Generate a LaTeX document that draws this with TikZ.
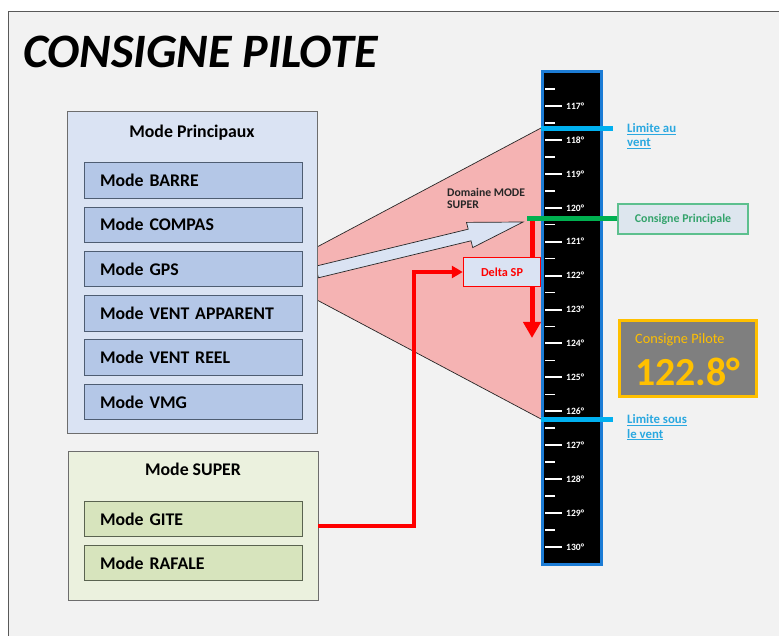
\documentclass[tikz,border=0pt]{standalone}
\usepackage{fontspec}
\setmainfont{Carlito}
\usetikzlibrary{arrows.meta,calc}
\definecolor{bgc}{HTML}{F2F2F2}
\definecolor{framec}{HTML}{595959}
\definecolor{pinkc}{HTML}{F5B3B3}
\definecolor{princfill}{HTML}{DAE3F3}
\definecolor{princin}{HTML}{B4C7E7}
\definecolor{princline}{HTML}{4E5D72}
\definecolor{superfill}{HTML}{EBF1DE}
\definecolor{superin}{HTML}{D7E4BD}
\definecolor{superline}{HTML}{5A6350}
\definecolor{outline}{HTML}{6D6D6D}
\definecolor{scaleblue}{HTML}{1C7CD5}
\definecolor{limblue}{HTML}{00B0F0}
\definecolor{limtext}{HTML}{2AA8E0}
\definecolor{greenc}{HTML}{00B050}
\definecolor{cpline}{HTML}{5DC08E}
\definecolor{cptext}{HTML}{33A36B}
\definecolor{cpfill}{HTML}{DDE6EE}
\definecolor{gold}{HTML}{FFC000}
\definecolor{pilotgray}{HTML}{7F7F7F}
\definecolor{redc}{HTML}{FF0000}
\definecolor{darktext}{HTML}{262626}
\begin{document}
\begin{tikzpicture}[x=1pt,y=-1pt,
  outerbox/.style={draw=outline,line width=1pt,inner sep=0pt,minimum width=250pt},
  modebox/.style={draw=princline,fill=princin,line width=1pt,minimum width=218pt,minimum height=35.5pt,
    text width=186pt,inner xsep=16pt,inner ysep=0pt,align=left,font=\fontsize{17.8}{20}\selectfont\bfseries,text=black},
  superbox/.style={modebox,draw=superline,fill=superin},
  boxtitle/.style={font=\fontsize{17.8}{20}\selectfont\bfseries,inner sep=0pt,text=black},
  majortick/.style={white,line width=2pt},
  minortick/.style={white,line width=1.5pt},
  ticklabel/.style={text=white,font=\fontsize{9.6}{10}\selectfont\bfseries,inner sep=0pt,anchor=west},
  limline/.style={limblue,line width=5pt},
  limlabel/.style={text=limtext,font=\fontsize{12.8}{14.5}\selectfont\bfseries,inner sep=0pt,align=left,anchor=base west},
  redline/.style={redc,line width=4pt}
]
\useasboundingbox (0,0) rectangle (779,636);
\fill[white] (0,0) rectangle (779,636);
\draw[fill=bgc,draw=framec,line width=1pt] (8,12) rectangle (795,650);

% title
\node[anchor=base west,inner sep=0pt,font=\fontsize{48}{48}\selectfont\bfseries\itshape] (title) at (23,68) {CONSIGNE PILOTE};

% pink domain
\coordinate (pA) at (317,247);
\coordinate (pB) at (541,128);
\coordinate (pC) at (541,419);
\coordinate (pD) at (317,300);
\fill[pinkc] (pA) -- (pB) -- (pC) -- (pD) -- cycle;
\draw[darktext,line width=0.7pt] (pA) -- (pB);
\draw[darktext,line width=0.7pt] (pD) -- (pC);

% block arrow
\draw[fill=princfill,draw=darktext,line width=0.7pt]
  (315.6,266.2) -- (468.2,229.2) -- (466.5,222.4) -- (523,222) -- (472.7,247.6) -- (471.0,240.8) -- (318.4,277.8) -- cycle;

\coordinate (redstart) at (318,526);
\coordinate (redcorner) at (414,526);

% boxes
\node[outerbox,fill=princfill,minimum height=321pt] (princ) at (192,272.5) {};
\node[boxtitle] (princtitle) at (192,133) {Mode Principaux};
\node[modebox] (barre) at (193,180.5) {Mode BARRE};
\node[modebox] (compas) at (193,224.8) {Mode COMPAS};
\node[modebox] (gps) at (193,269.1) {Mode GPS};
\node[modebox] (apparent) at (193,313.4) {Mode VENT APPARENT};
\node[modebox] (reel) at (193,357.7) {Mode VENT REEL};
\node[modebox] (vmg) at (193,402) {Mode VMG};

\node[outerbox,fill=superfill,minimum height=149pt] (super) at (193,525.5) {};
\node[boxtitle] (supertitle) at (193,469) {Mode SUPER};
\node[superbox] (gite) at (193,519) {Mode GITE};
\node[superbox] (rafale) at (193,563) {Mode RAFALE};

% scale
\node[draw=scaleblue,fill=black,line width=3pt,minimum width=59pt,minimum height=493pt,inner sep=0pt] (scale) at (572,318) {};
\foreach \k in {0,...,13}{
  \pgfmathsetmacro{\yy}{106+33.92*\k}
  \pgfmathsetmacro{\ym}{\yy-17}
  \pgfmathtruncatemacro{\val}{117+\k}
  \draw[minortick] (545,\ym) -- (555,\ym);
  \draw[majortick] (545,\yy) -- (562,\yy);
  \node[ticklabel] (tick\k) at (566,\yy) {\val°};
}

% limits
\coordinate (limA1) at (541,129);
\coordinate (limA2) at (613,129);
\coordinate (limB1) at (541,419);
\coordinate (limB2) at (613,419);
\draw[limline] (limA1) -- (limA2);
\draw[limline] (limB1) -- (limB2);
\node[limlabel] (limau) at (627,147) {\underline{Limite au}\\\underline{vent}};
\node[limlabel] (limsous) at (627,438) {\underline{Limite sous}\\\underline{le vent}};

% red down arrow
\coordinate (reddowntop) at (532,219);
\coordinate (reddownend) at (532,338);
\draw[redc,line width=5pt,-{Triangle[width=17pt,length=16pt]}] (reddowntop) -- (reddownend);

% Delta SP box
\node[draw=redc,fill=princfill,line width=1.5pt,minimum width=77pt,minimum height=29pt,inner sep=0pt,
      text=redc,font=\fontsize{12.2}{14}\selectfont\bfseries] (delta) at (502,272) {Delta SP};
\draw[redline,-{Triangle[width=12pt,length=11pt]}] (redstart) -- (redcorner) |- (delta.west);

% Domaine label
\node[anchor=north west,inner sep=0pt,align=left,text=darktext,font=\fontsize{11.7}{12.5}\selectfont\bfseries] (domaine) at (447,188) {Domaine MODE\\SUPER};

% Consigne principale
\node[draw=cpline,fill=cpfill,line width=1.2pt,minimum width=130pt,minimum height=30pt,inner sep=0pt,
      text=cptext,font=\fontsize{11.9}{13}\selectfont\bfseries] (cp) at (683,219) {Consigne Principale};
\coordinate (greenstart) at (527,219);
\draw[greenc,line width=5pt] (greenstart) -- (cp.west);

% Consigne pilote
\node[draw=gold,fill=pilotgray,line width=3pt,minimum width=137pt,minimum height=76pt,inner sep=0pt] (pilot) at (688,358.5) {};
\node[anchor=base west,inner sep=0pt,text=gold,font=\fontsize{14.3}{15}\selectfont] (pilottitle) at (635,343) {Consigne Pilote};
\node[anchor=base west,inner sep=0pt,text=gold,font=\fontsize{39.8}{42}\selectfont\bfseries] (pilotval) at (635,385) {122.8°};
\end{tikzpicture}
\end{document}
